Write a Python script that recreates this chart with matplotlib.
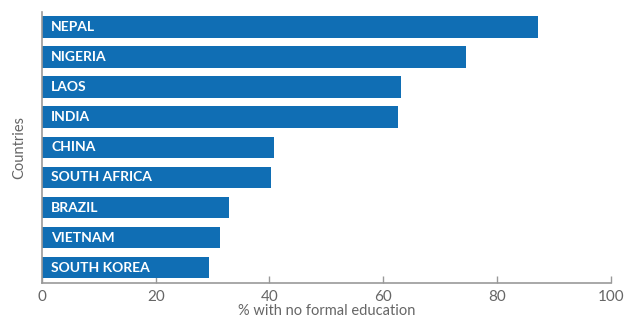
import matplotlib
matplotlib.use("Agg")
import matplotlib.pyplot as plt

countries = ["NEPAL", "NIGERIA", "LAOS", "INDIA", "CHINA", "SOUTH AFRICA", "BRAZIL", "VIETNAM", "SOUTH KOREA"]
values = [87.2, 74.6, 63.1, 62.6, 40.8, 40.3, 32.9, 31.3, 29.4]
xticks = [0, 20, 40, 60, 80, 100]

plt.rcParams['font.family'] = ['Lato', 'DejaVu Sans']

fig = plt.figure(figsize=(6.32, 3.21), dpi=100)
ax = fig.add_axes([42/632, (321-282.7)/321, (610.7-42)/632, (282.7-12)/321])

bar_color = "#106EB4"
pos = list(range(len(countries)))
ax.barh(pos, values, height=0.72, color=bar_color, zorder=2)
for p, c in zip(pos, countries):
    ax.text(1.6, p, c, color="white", fontsize=10, fontweight="bold",
            va="center", ha="left", zorder=3)

ax.set_ylim(8.5, -0.5)
ax.set_xlim(0, 100)
ax.set_xticks(xticks)
ax.set_yticks([])
grey = "#999999"
for s in ["top", "right"]:
    ax.spines[s].set_visible(False)
for s in ["left", "bottom"]:
    ax.spines[s].set_color(grey)
    ax.spines[s].set_linewidth(1.2)
ax.tick_params(axis="x", direction="in", length=5, width=1, color=grey,
               labelcolor="#666666", labelsize=11, pad=5)
ax.set_xlabel("% with no formal education", color="#666666", fontsize=10.5, labelpad=0)
ax.set_ylabel("Countries", color="#666666", fontsize=10.5, labelpad=11)

fig.savefig("out.png", dpi=100)
